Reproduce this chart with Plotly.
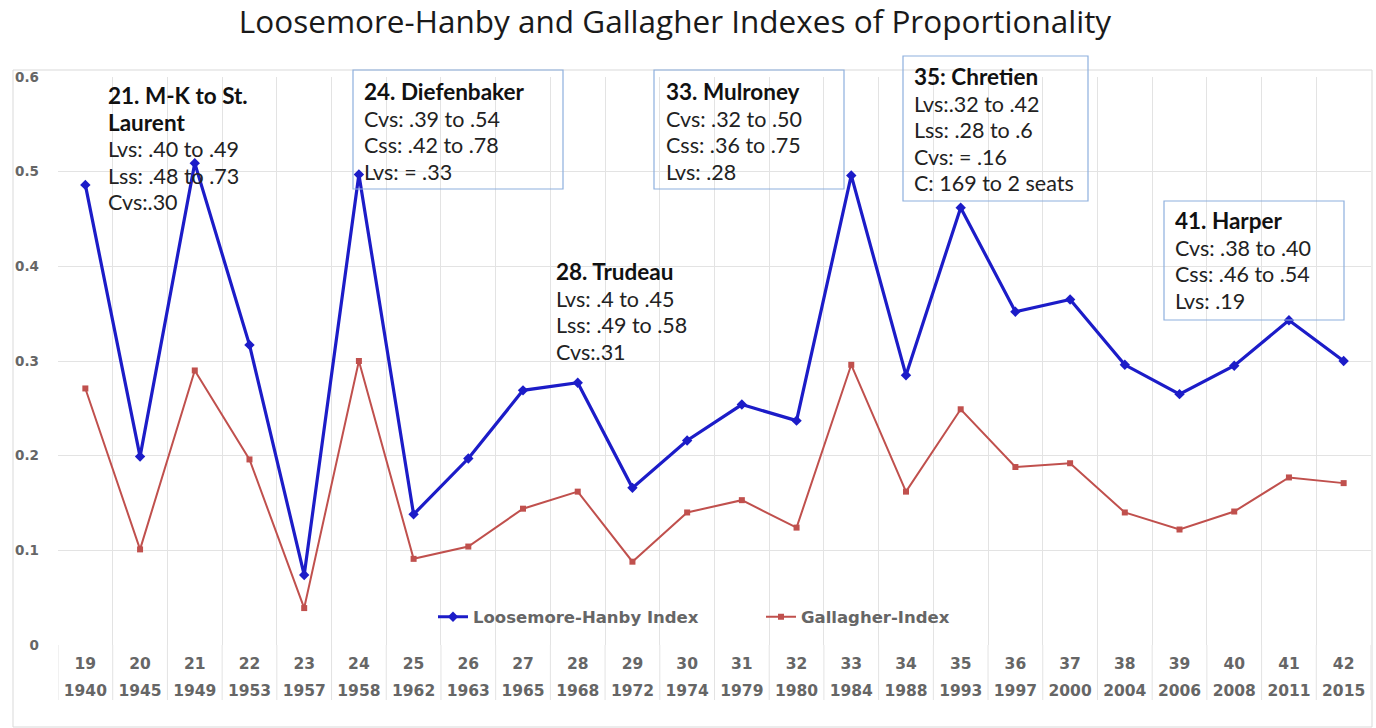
import plotly.graph_objects as go

elections = ["19", "20", "21", "22", "23", "24", "25", "26", "27", "28", "29", "30",
             "31", "32", "33", "34", "35", "36", "37", "38", "39", "40", "41", "42"]
years = ["1940", "1945", "1949", "1953", "1957", "1958", "1962", "1963", "1965", "1968",
         "1972", "1974", "1979", "1980", "1984", "1988", "1993", "1997", "2000", "2004",
         "2006", "2008", "2011", "2015"]
loosemore_hanby = [0.486, 0.199, 0.509, 0.317, 0.074, 0.497, 0.138, 0.197, 0.269, 0.277,
                   0.166, 0.216, 0.254, 0.237, 0.496, 0.285, 0.462, 0.352, 0.365, 0.296,
                   0.265, 0.295, 0.343, 0.300]
gallagher = [0.271, 0.101, 0.290, 0.196, 0.039, 0.300, 0.091, 0.104, 0.144, 0.162,
             0.088, 0.140, 0.153, 0.124, 0.296, 0.162, 0.249, 0.188, 0.192, 0.140,
             0.122, 0.141, 0.177, 0.171]

notes = [
    (["21. M-K to St.", "Laurent"], ["Lvs: .40 to .49", "Lss: .48 to .73", "Cvs:.30"]),
    (["24. Diefenbaker"], ["Cvs: .39 to .54", "Css: .42 to .78", "Lvs: = .33"]),
    (["28. Trudeau"], ["Lvs: .4 to .45", "Lss: .49 to .58", "Cvs:.31"]),
    (["33. Mulroney"], ["Cvs: .32 to .50", "Css: .36 to .75", "Lvs: .28"]),
    (["35: Chretien"], ["Lvs:.32 to .42", "Lss: .28 to .6", "Cvs: = .16", "C: 169 to 2 seats"]),
    (["41. Harper"], ["Cvs: .38 to .40", "Css: .46 to .54", "Lvs: .19"]),
]

# ---- layout geometry (pixels) ----
W, H = 1376, 728
L, R, T, B = 58, 5, 77, 83
PW, PH = W - L - R, H - T - B


def px(x):
    return (x - L) / PW


def py(y):
    return (H - B - y) / PH


note_pos = [(107, 95, None), (363, 92, (353, 70, 563, 189)), (555, 272, None),
            (665, 92, (654, 70, 844, 189)), (913, 76, (903, 56, 1088, 201)),
            (1174, 221, (1164, 201, 1344, 320))]
BASE_SIZE = 20.4          # line pitch = 1.3 * base size
TITLE_SIZE = 22.5
BODY_SIZE = 21.5

ticktext = [f"<span style='font-size:15.5px'>{e}</span><br><span style='font-size:15.5px'>{y}</span>"
            for e, y in zip(elections, years)]

fig = go.Figure()
fig.add_trace(go.Scatter(
    x=elections, y=loosemore_hanby, mode="lines+markers", name="Loosemore-Hanby Index",
    line=dict(color="#1c1cc8", width=3.2),
    marker=dict(symbol="diamond", size=8, color="#1c1cc8"),
))
fig.add_trace(go.Scatter(
    x=elections, y=gallagher, mode="lines+markers", name="Gallagher-Index",
    line=dict(color="#c0504d", width=2),
    marker=dict(symbol="square", size=6, color="#c0504d"),
))

shapes = []
# outer border
shapes.append(dict(type="rect", xref="paper", yref="paper", x0=px(13), x1=px(1372),
                   y0=py(727), y1=py(70), line=dict(color="#d9d9d9", width=1), layer="below"))
# category separators below the axis
for i in range(len(elections) + 1):
    shapes.append(dict(type="line", xref="x", yref="paper", x0=i - 0.5, x1=i - 0.5,
                       y0=py(700), y1=0, line=dict(color="#e3e3e3", width=1), layer="below"))

annotations = []
for (titles, body), (x0, y0, box) in zip(notes, note_pos):
    lines = [f"<span style='font-size:{TITLE_SIZE}px;color:#111111'><b>{t}</b></span>" for t in titles]
    lines += [f"<span style='font-size:{BODY_SIZE}px;color:#222222'>{t}</span>" for t in body]
    n = len(lines)
    center = y0 + (n - 1) * 1.3 * BASE_SIZE / 2
    annotations.append(dict(x=px(x0 - 1), y=py(center), xref="paper", yref="paper",
                            text="<br>".join(lines),
                            showarrow=False, xanchor="left", yanchor="middle", align="left",
                            font=dict(family="Lato", size=BASE_SIZE, color="#222222")))
    if box:
        bx0, by0, bx1, by1 = box
        shapes.append(dict(type="rect", xref="paper", yref="paper", x0=px(bx0), x1=px(bx1),
                           y0=py(by1), y1=py(by0), line=dict(color="#8eb0de", width=1.2)))

fig.update_layout(
    width=W, height=H,
    margin=dict(l=L, r=R, t=T, b=B),
    paper_bgcolor="white", plot_bgcolor="white",
    title=dict(text="Loosemore-Hanby and Gallagher Indexes of Proportionality",
               x=675 / W, xanchor="center", y=1 - 22 / H, yanchor="middle",
               font=dict(family="Open Sans", size=31.5, color="#1a1a1a")),
    xaxis=dict(type="category", range=[-0.5, len(elections) - 0.5], tickson="boundaries",
               showgrid=True, gridcolor="#e3e3e3", gridwidth=1, ticks="",
               tickvals=elections, ticktext=ticktext,
               tickfont=dict(family="DejaVu Sans", size=21, color="#666666", weight="bold"),
               showline=False, zeroline=False, fixedrange=True, ticklabelstandoff=2),
    yaxis=dict(range=[0, 0.6], dtick=0.1, showgrid=True, gridcolor="#e3e3e3", gridwidth=1,
               zeroline=False, showline=False, ticks="", ticklabelstandoff=18,
               tickfont=dict(family="DejaVu Sans", size=13.5, color="#666666", weight="bold")),
    legend=dict(orientation="h", x=px(433), y=py(617), xanchor="left", yanchor="middle",
                bgcolor="rgba(0,0,0,0)", entrywidth=283, entrywidthmode="pixels",
                font=dict(family="DejaVu Sans", size=16.5, color="#666666", weight="bold")),
    shapes=shapes,
    annotations=annotations,
    showlegend=True,
)

fig.write_html("out.html", config={"displayModeBar": False},
               post_script="document.body.style.margin='0px';")
